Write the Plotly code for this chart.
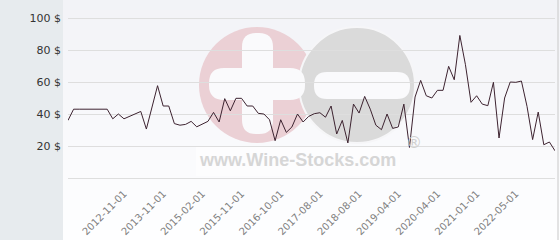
import plotly.graph_objects as go

# ---------------- data ----------------
dates = [
    "2011-03-01", "2011-06-01", "2011-09-01", "2011-11-01", "2012-01-01",
    "2012-03-01", "2012-05-01", "2012-06-01", "2012-08-01", "2012-10-01",
    "2012-11-01", "2013-01-01", "2013-03-01", "2013-04-01", "2013-06-01",
    "2013-08-01", "2013-10-01", "2013-11-01", "2014-01-01", "2014-03-01",
    "2014-05-01", "2014-07-01", "2014-09-01", "2014-12-01", "2015-02-01",
    "2015-03-01", "2015-04-01", "2015-05-01", "2015-07-01", "2015-08-01",
    "2015-10-01", "2015-11-01", "2015-12-01", "2016-02-01", "2016-03-01",
    "2016-05-01", "2016-07-01", "2016-08-01", "2016-10-01", "2016-11-01",
    "2016-12-01", "2017-02-01", "2017-03-01", "2017-05-01", "2017-06-01",
    "2017-08-01", "2017-10-01", "2017-11-01", "2018-01-01", "2018-03-01",
    "2018-05-01", "2018-06-01", "2018-08-01", "2018-09-01", "2018-10-01",
    "2018-11-01", "2018-12-01", "2019-01-01", "2019-02-01", "2019-04-01",
    "2019-05-01", "2019-07-01", "2019-09-01", "2019-10-01", "2019-12-01",
    "2020-02-01", "2020-04-01", "2020-05-01", "2020-06-01", "2020-07-01",
    "2020-09-01", "2020-10-01", "2020-12-01", "2021-01-01", "2021-03-01",
    "2021-05-01", "2021-08-01", "2021-10-01", "2021-12-01", "2022-03-01",
    "2022-05-01", "2022-06-01", "2022-08-01", "2022-10-01", "2022-12-01",
    "2023-02-01", "2023-04-01", "2023-06-01",
]
prices = [
    36, 43, 43, 43, 43, 43, 43, 43, 37, 40,
    37, 38.5, 40, 41.6, 30.6, 44, 57.7, 45, 45, 34,
    33, 33.5, 35.4, 32, 33.5, 35.4, 41, 35, 49.6, 42,
    49.8, 49.8, 45, 45, 40.4, 40, 36.4, 23.3, 36.4, 28.5,
    31.9, 40, 35, 38.5, 40.2, 40.8, 38, 45, 27.5, 36,
    21.9, 46.2, 40.6, 51, 43, 33, 30.2, 40, 31, 31.9,
    46.2, 19.1, 50.6, 61, 51.4, 50, 54.8, 54.8, 69.8, 61.4,
    89.1, 70.8, 47.3, 51.4, 46.2, 45.2, 59.8, 25, 50, 60,
    59.8, 60.6, 44.8, 24, 41.2, 20.8, 22.5, 17,
]
x_tick_labels = [
    "2012-11-01", "2013-11-01", "2015-02-01", "2015-11-01", "2016-10-01",
    "2017-08-01", "2018-08-01", "2019-04-01", "2020-04-01", "2021-01-01",
    "2022-05-01",
]
y_tick_values = [0, 20, 40, 60, 80, 100]
y_tick_labels = ["", "20 $", "40 $", "60 $", "80 $", "100 $"]

# ---------------- layout geometry ----------------
W, H = 560, 240
L, R, T, B = 68, 5, 6, 62
PW = W - L - R
PH = H - T - B


def X(px):
    return (px - L) / PW


def Y(py):
    return (H - B - py) / PH


shapes = []

# background gradient (light bluish top -> white bottom)
top_c = (242, 243, 247)
bot_c = (254, 254, 255)
nb = 24
for i in range(nb):
    f = i / (nb - 1)
    c = tuple(round(top_c[k] + (bot_c[k] - top_c[k]) * f) for k in range(3))
    shapes.append(dict(type="rect", xref="paper", yref="paper",
                       x0=X(0), x1=X(W), y0=Y(i * H / nb + H / nb + 0.5), y1=Y(i * H / nb),
                       fillcolor="rgb(%d,%d,%d)" % c, line=dict(width=0), layer="below"))

# left grey panel
shapes.append(dict(type="rect", xref="paper", yref="paper",
                   x0=X(0), x1=X(63), y0=Y(H), y1=Y(0),
                   fillcolor="#e7ebee", line=dict(width=0), layer="below"))

# right border
shapes.append(dict(type="line", xref="paper", yref="paper",
                   x0=X(558), x1=X(558), y0=Y(H), y1=Y(0),
                   line=dict(color="#c8c8c8", width=1), layer="below"))


def circle(cx, cy, r, color, outline=None):
    return dict(type="circle", xref="paper", yref="paper",
                x0=X(cx - r), x1=X(cx + r), y0=Y(cy + r), y1=Y(cy - r),
                fillcolor=color,
                line=dict(width=outline[1] if outline else 0,
                          color=outline[0] if outline else "rgba(0,0,0,0)"),
                layer="below")


def rrect(x0, y0, x1, y1, r, color):
    p = (f"M {X(x0 + r)},{Y(y0)} L {X(x1 - r)},{Y(y0)} Q {X(x1)},{Y(y0)} {X(x1)},{Y(y0 + r)} "
         f"L {X(x1)},{Y(y1 - r)} Q {X(x1)},{Y(y1)} {X(x1 - r)},{Y(y1)} "
         f"L {X(x0 + r)},{Y(y1)} Q {X(x0)},{Y(y1)} {X(x0)},{Y(y1 - r)} "
         f"L {X(x0)},{Y(y0 + r)} Q {X(x0)},{Y(y0)} {X(x0 + r)},{Y(y0)} Z")
    return dict(type="path", xref="paper", yref="paper", path=p,
                fillcolor=color, line=dict(width=0), layer="below")


# watermark
shapes.append(circle(257, 85, 58, "#ebd0d5"))
shapes.append(circle(357, 85, 58, "#dadada", ("#f6f6f8", 2)))
shapes.append(rrect(242, 33, 273, 134, 14, "#fafafc"))
shapes.append(rrect(209, 68, 305, 100, 15, "#fafafc"))
shapes.append(rrect(314, 72, 410, 99, 13, "#fafafc"))
shapes.append(dict(type="rect", xref="paper", yref="paper",
                   x0=X(196), x1=X(400), y0=Y(176), y1=Y(146),
                   fillcolor="rgba(255,255,255,0.6)", line=dict(width=0), layer="below"))

annotations = [
    dict(text="www.Wine-Stocks.com", xref="paper", yref="paper",
         x=X(297), y=Y(160), xanchor="center", yanchor="middle", showarrow=False,
         font=dict(family="Liberation Sans", size=18, color="#d6d6d6", weight="bold")),
    dict(text="®", xref="paper", yref="paper",
         x=X(414), y=Y(142), xanchor="center", yanchor="middle", showarrow=False,
         font=dict(family="DejaVu Sans", size=16, color="#d0d0d0")),
]

fig = go.Figure()
fig.add_trace(go.Scatter(
    x=dates, y=prices, mode="lines",
    line=dict(color="#3d2330", width=1),
    hoverinfo="skip", showlegend=False,
))

fig.update_layout(
    width=W, height=H,
    margin=dict(l=L, r=R, t=T, b=B, pad=0, autoexpand=False),
    paper_bgcolor="#ffffff",
    plot_bgcolor="rgba(0,0,0,0)",
    shapes=shapes,
    annotations=annotations,
    showlegend=False,
    xaxis=dict(
        type="category",
        range=[0, len(dates) - 1],
        tickmode="array",
        tickvals=x_tick_labels,
        ticktext=x_tick_labels,
        tickangle=-45,
        showgrid=False,
        zeroline=False,
        showline=False,
        ticks="",
        automargin=False,
        ticklabelstandoff=7,
        tickfont=dict(family="DejaVu Sans", size=10, color="#808080"),
        fixedrange=True,
    ),
    yaxis=dict(
        range=[0, PH / 1.6],
        tickmode="array",
        tickvals=y_tick_values,
        ticktext=y_tick_labels,
        showgrid=True,
        gridcolor="#dedede",
        gridwidth=1,
        zeroline=True,
        zerolinecolor="#dedede",
        zerolinewidth=1,
        showline=False,
        ticks="",
        automargin=False,
        ticklabelstandoff=6,
        tickfont=dict(family="DejaVu Sans", size=11, color="#333333"),
        fixedrange=True,
    ),
)

fig.write_html("out.html")
